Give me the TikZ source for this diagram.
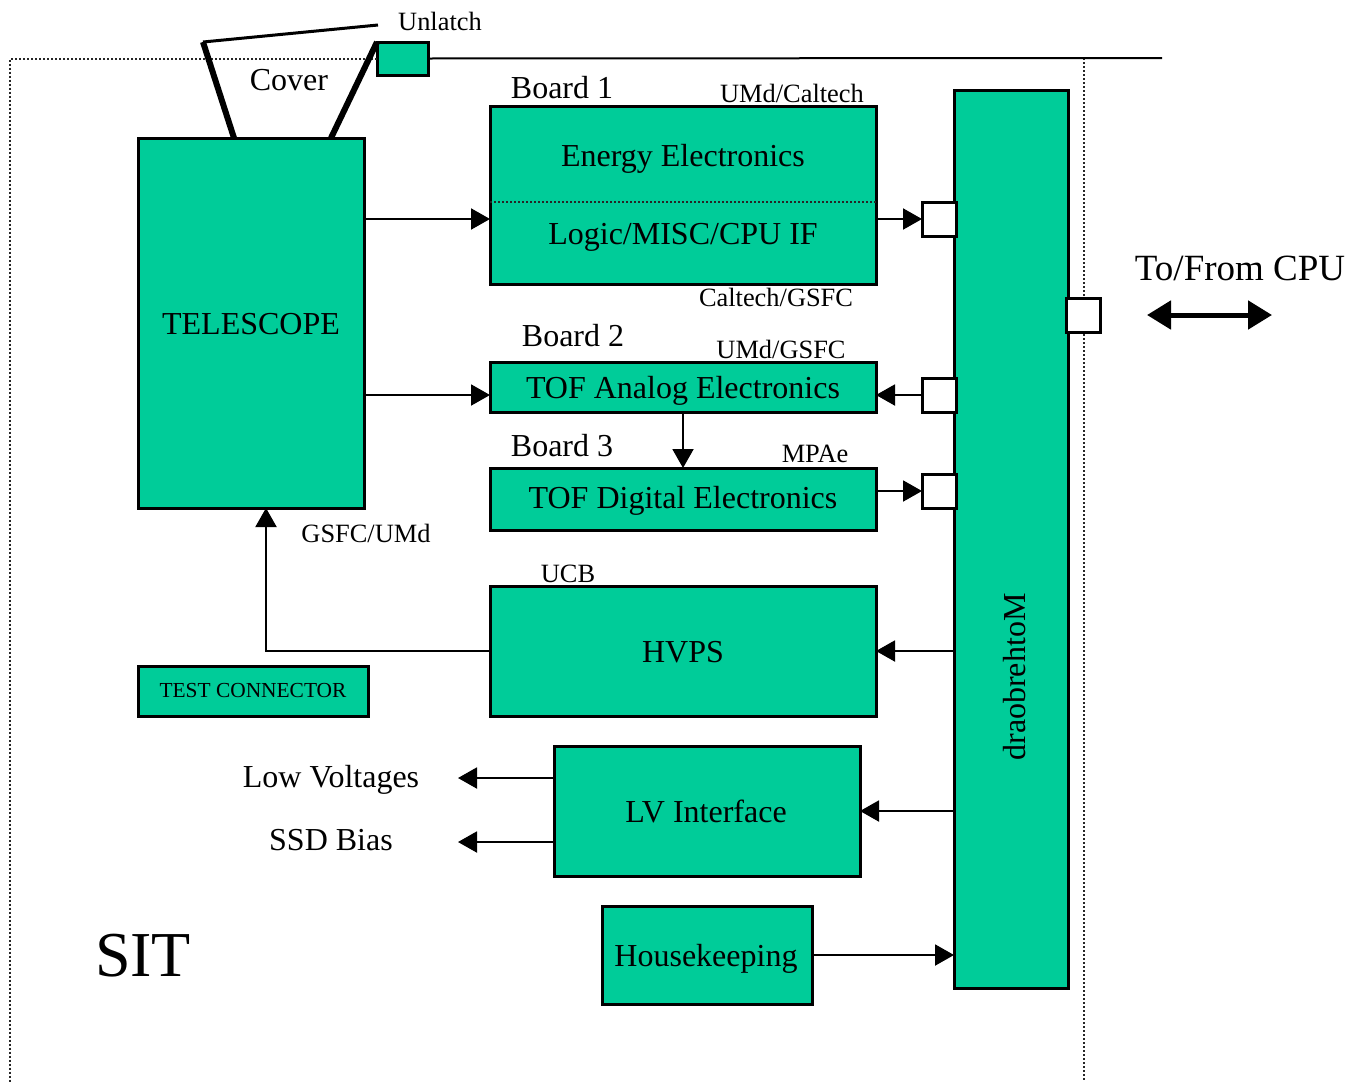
\documentclass[tikz,border=0pt]{standalone}
\usepackage{fontspec}
\setmainfont{Liberation Serif}
\usetikzlibrary{positioning,arrows.meta}
\definecolor{boxgreen}{RGB}{0,204,153}
\newcommand{\txtmain}{\fontsize{16}{19}\selectfont}
\newcommand{\txtsmall}{\fontsize{13.2}{15}\selectfont}
\newcommand{\txttest}{\fontsize{10.7}{12}\selectfont}
\newcommand{\txtcpu}{\fontsize{18.5}{21}\selectfont}
\newcommand{\txtsit}{\fontsize{32}{36}\selectfont}
\tikzset{
	blk/.style={draw,line width=1.5pt,fill=boxgreen,inner sep=0pt,outer sep=0pt},
	port/.style={draw,line width=1.5pt,fill=white,minimum size=17pt,inner sep=0pt,outer sep=0pt},
	arr/.style={line width=1pt,-{Triangle[length=9.5pt,width=10.5pt]}},
	lbl/.style={inner sep=0pt,anchor=base,font=\txtmain},
	org/.style={inner sep=0pt,anchor=base,font=\txtsmall},
	border/.style={line width=1pt,black!85,dash pattern=on 1pt off 1pt},
}

\begin{document}
\begin{tikzpicture}[x=0.5pt,y=-0.5pt]
	
	\useasboundingbox (0,0) rectangle (1353,1082);
	
	% outline of the instrument
	\node[blk,minimum width=25.5pt,minimum height=16.5pt] (unl) at (402.5,58.5) {};
	\coordinate (topR) at (1162,58);
	\draw[border] (unl.west) -| (10,1082);
	\draw[border] (1084,58) -- (1084,1082);
	\draw[line width=1pt] (unl.east) -- (topR);
	
	% cover
	\draw[line width=3pt] (234,138) -- (203,42);
	\draw[line width=1.5pt] (203,42) -- (378,25);
	\draw[line width=3pt] (331,138) -- (377,42);
	\node[lbl] (cover) at (289,90) {Cover};
	\node[org] (unlatch) at (440,30) {Unlatch};
	
	% blocks
	\node[blk,minimum width=113pt,minimum height=185pt] (tele) at (251,323) {};
	\node[blk,minimum width=193pt,minimum height=89pt] (b1) at (683,195) {};
	\node[blk,minimum width=193pt,minimum height=25pt] (tofa) at (683,387) {};
	\node[blk,minimum width=193pt,minimum height=31pt] (tofd) at (683,499) {};
	\node[blk,minimum width=193pt,minimum height=65pt] (hvps) at (683,651) {};
	\node[blk,minimum width=115pt,minimum height=25pt] (test) at (253,691) {};
	\node[blk,minimum width=153pt,minimum height=65pt] (lv) at (707,811) {};
	\node[blk,minimum width=105pt,minimum height=49pt] (hk) at (707,955) {};
	\node[blk,minimum width=57pt,minimum height=449pt] (mb) at (1011,539) {};
	\draw[border] (490,202) -- (876,202);
	
	% block texts
	\node[lbl] (teletxt) at (251,334) {TELESCOPE};
	\node[lbl] (energy) at (683,166) {Energy Electronics};
	\node[lbl] (logic) at (683,244) {Logic/MISC/CPU IF};
	\node[lbl] (tofatxt) at (683,398) {TOF Analog Electronics};
	\node[lbl] (tofdtxt) at (683,508) {TOF Digital Electronics};
	\node[lbl] (hvpstxt) at (683,662) {HVPS};
	\node[org,font=\txttest] (testtxt) at (253,697) {TEST CONNECTOR};
	\node[lbl] (lvtxt) at (706,822) {LV Interface};
	\node[lbl] (hktxt) at (706,966) {Housekeeping};
	\node[lbl,rotate=90] (mbtxt) at (1025,677) {draobrehtoM};
	
	% ports
	\node[port] (p1) at (939,219) {};
	\node[port] (p2) at (939,395) {};
	\node[port] (p3) at (939,491) {};
	\node[port] (pc) at (1083,315) {};
	
	% labels
	\node[lbl] (bd1) at (562,98) {Board 1};
	\node[org] (umdc) at (792,102) {UMd/Caltech};
	\node[org] (calg) at (776,306) {Caltech/GSFC};
	\node[lbl] (bd2) at (573,346) {Board 2};
	\node[org] (umdg) at (781,358) {UMd/GSFC};
	\node[lbl] (bd3) at (562,456) {Board 3};
	\node[org] (mpae) at (815,462) {MPAe};
	\node[org] (gsfc) at (366,542) {GSFC/UMd};
	\node[org] (ucb) at (568,582) {UCB};
	\node[lbl] (lowv) at (331,787) {Low Voltages};
	\node[lbl] (ssd) at (331,850) {SSD Bias};
	\node[lbl,font=\txtsit] (sit) at (143,976) {SIT};
	\node[lbl,font=\txtcpu] (cpu) at (1240,280) {To/From CPU};
	
	% connections
	\draw[arr] (tele.east |- p1) -- (b1.west |- p1);
	\draw[arr] (b1.east |- p1) -- (p1.west);
	\draw[arr] (tele.east |- p2) -- (tofa.west |- p2);
	\draw[arr] (p2.west) -- (tofa.east |- p2);
	\draw[arr] (tofa.south) -- (tofd.north);
	\draw[arr] (tofd.east |- p3) -- (p3.west);
	\draw[arr] (mb.west |- hvps) -- (hvps.east);
	\draw[arr] (hvps.west) -| ([xshift=7.5pt]tele.south);
	\draw[arr] (mb.west |- lv) -- (lv.east);
	\coordinate (lvend) at (458,778);
	\coordinate (ssdend) at (458,842);
	\draw[arr] (lv.west |- lvend) -- (lvend);
	\draw[arr] (lv.west |- ssdend) -- (ssdend);
	\draw[arr] (hk.east) -- (mb.west |- hk);
	
	\coordinate (cpuL) at (1147,315);
	\coordinate (cpuR) at (1272,315);
	\draw[line width=2.5pt,{Triangle[length=12pt,width=14pt]}-{Triangle[length=12pt,width=14pt]}] (cpuL) -- (cpuR);
	
\end{tikzpicture}
\end{document}
